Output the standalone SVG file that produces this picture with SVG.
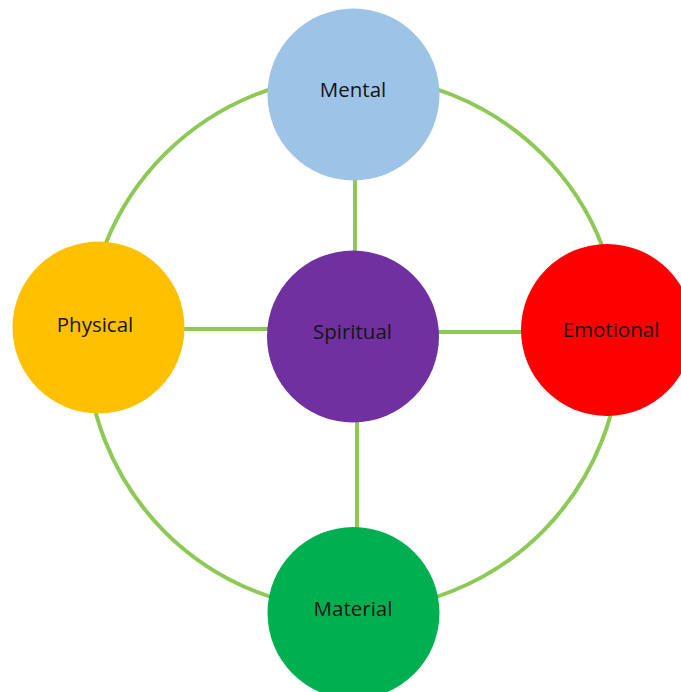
<svg xmlns="http://www.w3.org/2000/svg" width="681" height="692" viewBox="0 0 681 692">
<style>
.c{stroke:none}
.l{fill:none;stroke:#8DC955;stroke-width:4}
text{font-family:"Open Sans","Liberation Sans",sans-serif;font-size:20.5px;fill:#151515;text-anchor:middle}
</style>
<rect width="681" height="692" fill="#fff"/>
<g id="connectors">
<circle class="l" cx="353.5" cy="343" r="267"/>
<line class="l" x1="355" y1="170" x2="355" y2="255"/>
<line class="l" x1="357" y1="418" x2="357" y2="530"/>
<line class="l" x1="180" y1="329" x2="272" y2="329"/>
<line class="l" x1="436" y1="332" x2="525" y2="332"/>
</g>
<g id="mental"><circle class="c" cx="353.5" cy="94.5" r="86" fill="#9DC3E6"/><text x="353" y="96.5">Mental</text></g>
<g id="physical"><circle class="c" cx="98.5" cy="327.5" r="86" fill="#FFC000"/><text x="95" y="332">Physical</text></g>
<g id="spiritual"><circle class="c" cx="353" cy="336.5" r="86" fill="#7030A0"/><text x="352.5" y="339">Spiritual</text></g>
<g id="emotional"><circle class="c" cx="607" cy="330" r="86" fill="#FF0000"/><text x="611" y="337">Emotional</text></g>
<g id="material"><circle class="c" cx="353.5" cy="613" r="86" fill="#00B050"/><text x="353" y="616">Material</text></g>
</svg>
